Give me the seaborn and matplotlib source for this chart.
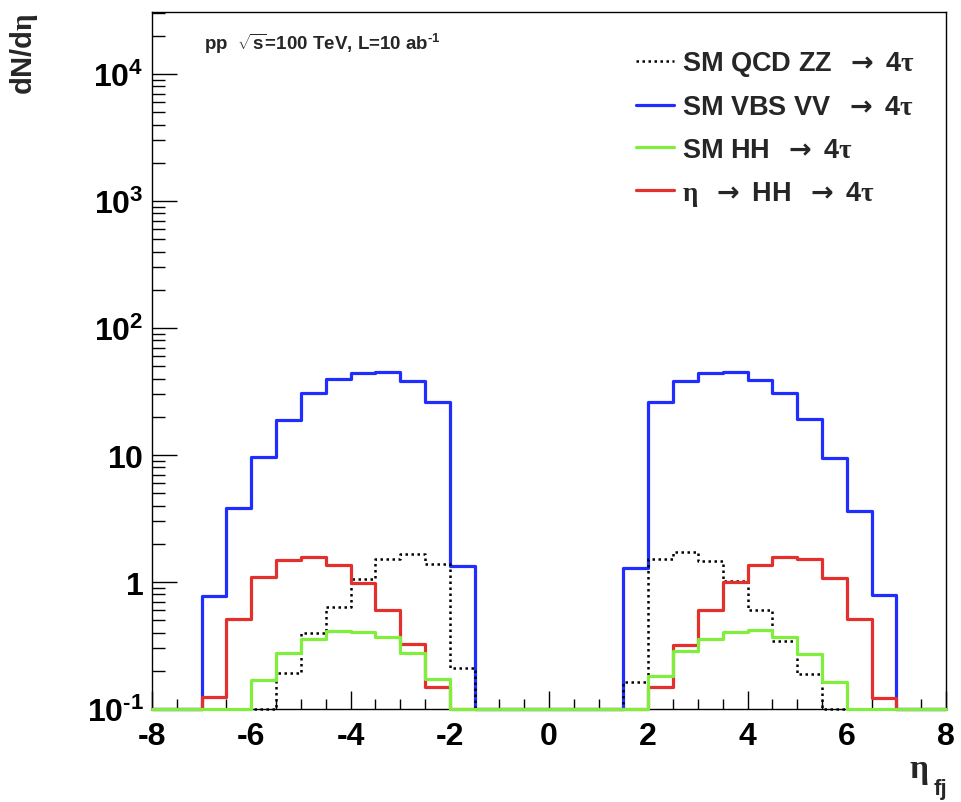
import numpy as np
import pandas as pd
import matplotlib
matplotlib.use("Agg")
import matplotlib.pyplot as plt
import seaborn as sns

# eta_fj binning: 32 bins of width 0.5 from -8 to 8
bin_edges = np.arange(-8.0, 8.0 + 0.25, 0.5)

# dN/deta per bin (left half, gap, right half)
qcd_zz = [0, 0, 0, 0, 0.08, 0.191, 0.394, 0.636, 1.05, 1.51, 1.66, 1.38, 0.212,
          0, 0, 0, 0, 0, 0,
          0.164, 1.51, 1.73, 1.46, 1.02, 0.60, 0.343, 0.188, 0.08, 0, 0, 0, 0]
vbs_vv = [0, 0, 0.78, 3.8, 9.7, 18.9, 30.6, 39.9, 44.2, 44.8, 38.3, 26.1, 1.34,
          0, 0, 0, 0, 0, 0,
          1.28, 26.3, 38.3, 44.5, 45.2, 39.0, 30.6, 19.1, 9.5, 3.6, 0.79, 0, 0]
sm_hh = [0, 0, 0, 0, 0.169, 0.278, 0.354, 0.409, 0.404, 0.369, 0.278, 0.173, 0,
         0, 0, 0, 0, 0, 0,
         0, 0.182, 0.285, 0.354, 0.404, 0.417, 0.37, 0.27, 0.164, 0, 0, 0, 0]
eta_hh = [0, 0, 0.125, 0.51, 1.10, 1.49, 1.58, 1.35, 0.98, 0.60, 0.325, 0.15, 0,
          0, 0, 0, 0, 0, 0,
          0, 0.15, 0.32, 0.60, 1.0, 1.35, 1.58, 1.53, 1.08, 0.515, 0.123, 0, 0]

ARROW = r"$\mathsf{\rightarrow}$"
labels = [r"SM QCD ZZ  " + ARROW + r" 4$\tau$",
          r"SM VBS VV  " + ARROW + r" 4$\tau$",
          r"SM HH  " + ARROW + r" 4$\tau$",
          r"$\eta$  " + ARROW + r" HH  " + ARROW + r" 4$\tau$"]
colors = ["black", "#1f2eff", "#80ee3c", "#e3302c"]
styles = [(0, (1, 1.4)), "-", "-", "-"]
widths = [1.8, 2.3, 2.3, 2.3]

y_tick_vals = [0.1, 1, 10, 100, 1000, 10000]
y_tick_text = [r"$\mathbf{10^{\text{-1}}}$", r"$\mathbf{1}$", r"$\mathbf{10}$",
               r"$\mathbf{10^{2}}$", r"$\mathbf{10^{3}}$", r"$\mathbf{10^{4}}$"]
x_tick_vals = [-8, -6, -4, -2, 0, 2, 4, 6, 8]

YMIN, YMAX = 0.1, 3.08e4

sns.set_style("ticks")
plt.rcParams["font.family"] = ["Liberation Sans", "DejaVu Sans"]
plt.rcParams["font.weight"] = "bold"
plt.rcParams["mathtext.fontset"] = "custom"
plt.rcParams["mathtext.rm"] = "Liberation Sans:bold"
plt.rcParams["mathtext.it"] = "Liberation Serif"
plt.rcParams["mathtext.bf"] = "Liberation Sans:bold"
plt.rcParams["mathtext.sf"] = "DejaVu Sans"

W, H = 961, 803
fig = plt.figure(figsize=(W / 100, H / 100), dpi=100)
ax = fig.add_axes([152 / W, 1 - 710 / H, (946 - 152) / W, (710 - 13) / H])
ax.set_yscale("log")

def step_frame(values):
    # bins below the frame minimum are drawn along the lower edge
    v = np.maximum(np.asarray(values, dtype=float), YMIN)
    return pd.DataFrame({"eta": bin_edges, "dN": np.append(v, v[-1])})

series = [qcd_zz, vbs_vv, sm_hh, eta_hh]
draw_order = [1, 0, 3, 2]
for z, i in enumerate(draw_order):
    df = step_frame(series[i])
    sns.lineplot(data=df, x="eta", y="dN", ax=ax, estimator=None, sort=False,
                 drawstyle="steps-post", color=colors[i], linestyle=styles[i],
                 linewidth=widths[i], label=labels[i], clip_on=False, zorder=3 + z)

ax.set_xlim(-8, 8)
ax.set_ylim(YMIN, YMAX)
ax.set_xticks(x_tick_vals)
ax.set_xticklabels([str(v) for v in x_tick_vals])
ax.set_xticks(np.arange(-8, 8.01, 0.5), minor=True)
ax.set_yticks(y_tick_vals)
ax.set_yticklabels(y_tick_text)
minor_y = [m * 10.0 ** e for e in range(-1, 5) for m in range(2, 10)]
ax.set_yticks([v for v in minor_y if v < YMAX], minor=True)
ax.set_xlabel("")
ax.set_ylabel("")

for s in ax.spines.values():
    s.set_linewidth(1.0)
    s.set_color("black")
ax.tick_params(axis="both", which="both", direction="in", top=False, right=False,
               width=1.0, colors="black")
ax.tick_params(axis="y", which="major", length=18, pad=6, labelsize=23)
ax.tick_params(axis="y", which="minor", length=9.5)
ax.tick_params(axis="x", which="major", length=13, pad=9, labelsize=23)
ax.tick_params(axis="x", which="minor", length=7.5)
for lab in ax.get_xticklabels():
    lab.set_fontweight("bold")

h, l = ax.get_legend_handles_labels()
order = [l.index(t) for t in labels]
leg = ax.legend([h[k] for k in order], [l[k] for k in order], frameon=False,
                loc="upper left", bbox_to_anchor=(636 / W, 1 - 50 / H),
                bbox_transform=fig.transFigure, fontsize=19.5, handlelength=1.4,
                handletextpad=0.28, labelspacing=0.6, borderpad=0, borderaxespad=0)
for t in leg.get_texts():
    t.set_fontweight("bold")

fig.text(204 / W, 1 - 44 / H,
         r"pp  $\sqrt{\mathbf{s}}$=100 TeV, L=10 ab$^{\text{-1}}$",
         fontsize=13.5, fontweight="bold", ha="left", va="center")
fig.text(24 / W, 1 - 13 / H, r"dN/d$\eta$", rotation=90, fontsize=21,
         fontweight="bold", ha="center", va="top")
fig.text(919 / W, 1 - 772 / H, r"$\eta$", fontsize=24, ha="center", va="center")
fig.text(940 / W, 1 - 790 / H, "fj", fontsize=16, fontweight="bold",
         ha="center", va="center")

fig.savefig("out.png", dpi=100, facecolor="white")
